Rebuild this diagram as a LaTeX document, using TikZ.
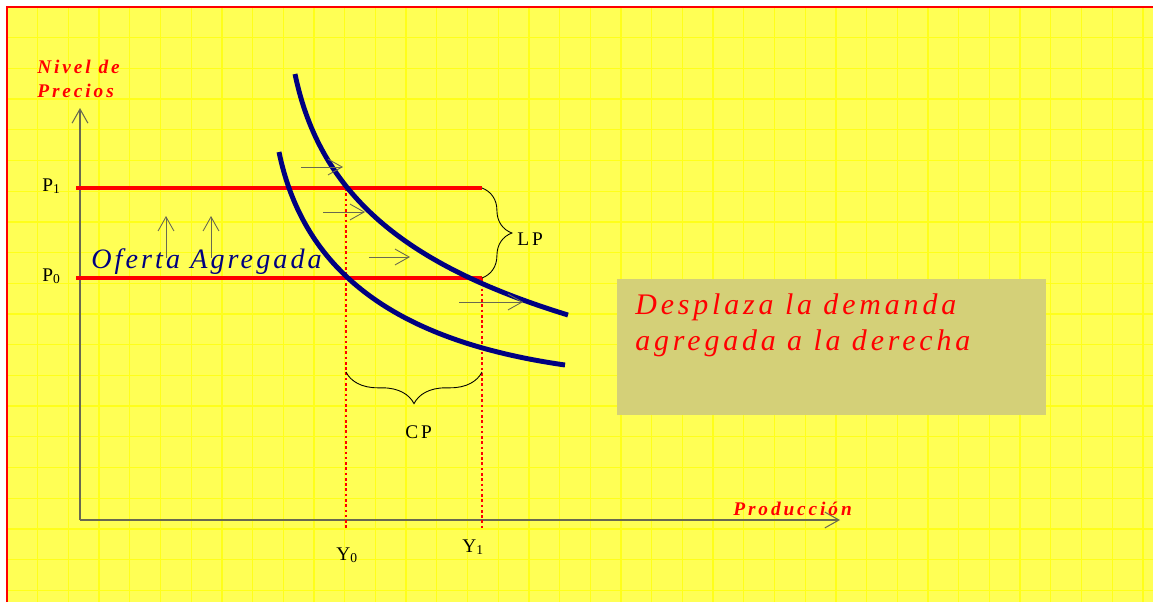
\documentclass[tikz,border=0pt]{standalone}
\usepackage{fontspec}
\setmainfont{Liberation Serif}
\newfontfamily\spaced[LetterSpace=15]{Liberation Serif}
\newfontfamily\wide[LetterSpace=11]{Liberation Serif}
\newfontfamily\notefont[LetterSpace=13]{Liberation Serif}
\usepackage{tikz}
\usetikzlibrary{arrows.meta,calc,positioning,decorations.pathreplacing}
\definecolor{navyblue}{RGB}{0,0,128}
\definecolor{paper}{RGB}{255,255,85}
\definecolor{gridline}{RGB}{255,255,25}
\definecolor{boxgray}{RGB}{212,208,120}
\definecolor{axisgray}{RGB}{105,105,80}

\begin{document}
\begin{tikzpicture}[x=0.02cm,y=-0.02cm,
    axisline/.style={axisgray,line width=0.6pt,-{Straight Barb[length=8pt,width=9pt]}},
    shiftarrow/.style={axisgray,line width=0.5pt,-{Straight Barb[length=8pt,width=9pt]}},
    priceline/.style={red,line width=2.8pt},
    demand/.style={navyblue,line width=2.8pt},
    guide/.style={red,line width=1.5pt,dash pattern=on 1.5pt off 1.5pt},
    curly/.style={black,line width=0.5pt,decorate},
    axislabel/.style={red,inner sep=0pt,font=\spaced\fontsize{11}{13}\selectfont\bfseries\itshape},
    ticklabel/.style={black,inner sep=0pt,font=\spaced\fontsize{11}{13}\selectfont}]
                \useasboundingbox (0,0) rectangle (1153,602);
                %Background
                \fill[paper] (7,7) rectangle (1153,602);
                \foreach \g in {0,...,37}
                    \draw[gridline,line width=0.7pt] ({7+30.7*\g},7) -- ({7+30.7*\g},602);
                \foreach \g in {0,...,19}
                    \draw[gridline,line width=0.7pt] (7,{7+30.7*\g}) -- (1153,{7+30.7*\g});
                \draw[red,line width=1.2pt] (7,602) -- (7,7) -- (1153,7);
                %Note box
                \fill[boxgray] (617,279) rectangle (1046,415);
                \node[red,anchor=base west,inner sep=0pt,align=left,
                      font=\notefont\fontsize{17}{20}\selectfont\itshape] (note) at (635,350)
                      {Desplaza la demanda\\agregada a la derecha};
                \coordinate (o) at (80,520);
                \coordinate (ytop) at (80,108);
                \coordinate (xend) at (840,520);
                \coordinate (p1a) at (76,188);
                \coordinate (p1b) at (482,188);
                \coordinate (p0a) at (76,278);
                \coordinate (p0b) at (482,278);
                \coordinate (y0top) at (346,188);
                \coordinate (y0bot) at (346,528);
                \coordinate (y1bot) at (482,528);
                \coordinate (d1a) at (295,74);
                \coordinate (d1b) at (568,315);
                \coordinate (d0a) at (279,152);
                \coordinate (d0b) at (565,365);
                %Axis
                \draw[axisline] (o) -- (ytop);
                \draw[axisline] (o) -- (xend);
                \node[axislabel,anchor=base west] (nivel) at (37,73) {Nivel de};
                \node[axislabel,anchor=base west] (precios) at (37,97) {Precios};
                \node[axislabel,anchor=base west] (prod) at (733,515) {Producción};
                %Guides
                \draw[guide] (y0top) -- (y0bot);
                \draw[guide] (p0b) -- (y1bot);
                %Supply lines
                \draw[priceline] (p1a) -- (p1b);
                \draw[priceline] (p0a) -- (p0b);
                \node[ticklabel,anchor=base west] (p1) at (42,191) {P\textsubscript{1}};
                \node[ticklabel,anchor=base west] (p0) at (42,281) {P\textsubscript{0}};
                \node[ticklabel,anchor=base west] (y0) at (336,560) {Y\textsubscript{0}};
                \node[ticklabel,anchor=base west] (y1) at (462,552) {Y\textsubscript{1}};
                %Demand curves
                \draw[demand] (d1a) .. controls (320,195) and (405,265) .. (d1b);
                \draw[demand] (d0a) .. controls (303,268) and (390,340) .. (d0b);
                \node[navyblue,anchor=base west,inner sep=0pt,
                      font=\wide\fontsize{16}{19}\selectfont\itshape] (oferta) at (91,268) {Oferta Agregada};
                %Shift arrows
                \coordinate (a1) at (301,167);  \coordinate (b1) at (343,167);
                \coordinate (a2) at (323,212);  \coordinate (b2) at (365,212);
                \coordinate (a3) at (369,257);  \coordinate (b3) at (410,257);
                \coordinate (a4) at (459,302);  \coordinate (b4) at (523,302);
                \coordinate (a5) at (166,258);  \coordinate (b5) at (166,216);
                \coordinate (a6) at (211,258);  \coordinate (b6) at (211,216);
                \foreach \i in {1,...,6}
                    \draw[shiftarrow] (a\i) -- (b\i);
                %Braces
                \draw[curly,decoration={brace,amplitude=17pt}] (p1b) -- (p0b);
                \node[ticklabel,anchor=base west] (lp) at (517,245) {LP};
                \coordinate (cpa) at (482,372);
                \coordinate (cpb) at (346,372);
                \draw[curly,decoration={brace,amplitude=18pt}] (cpa) -- (cpb);
                \node[ticklabel,anchor=base west] (cp) at (405,438) {CP};
            \end{tikzpicture}
\end{document}
